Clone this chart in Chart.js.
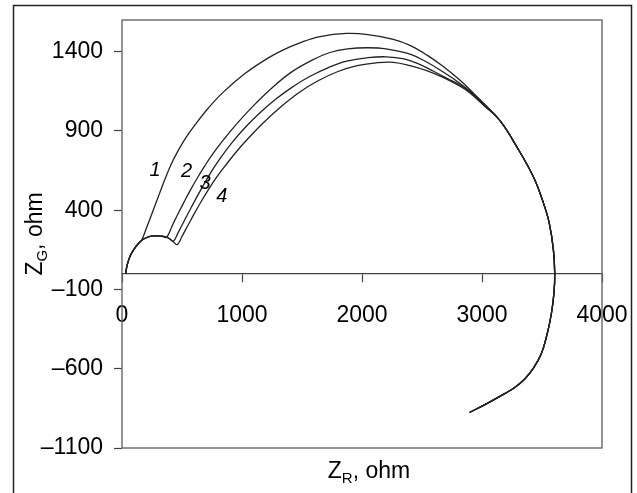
<!DOCTYPE html>
<html>
<head>
<meta charset="utf-8">
<script src="https://cdn.jsdelivr.net/npm/chart.js@4.4.1/dist/chart.umd.min.js"></script>
<style>
html, body { margin: 0; padding: 0; background: #fff; }
</style>
</head>
<body>
<canvas id="myChart" width="637" height="493"></canvas>
<script>
// tick labels
var xTicks = [0, 1000, 2000, 3000, 4000];
var yTicks = [-1100, -600, -100, 400, 900, 1400];
var curveNames = ['1', '2', '3', '4'];

// common start of the small arc (Z_R, Z_G in ohm)
var arcR = [30, 45, 70, 105, 140, 164];
var arcG = [0, 60, 115, 160, 192, 211];
// rest of the small arc for curves 2-4
var arc2R = [220, 275, 330, 372];
var arc2G = [232, 238, 236, 230];

// big arc, curve 1
var r1 = [210, 260, 310, 360, 410, 460, 530, 610, 720, 844, 1030, 1206, 1340, 1483, 1650, 1870, 2050, 2261, 2400, 2539, 2680, 2817, 2900, 3020];
var g1 = [300, 400, 500, 600, 690, 765, 855, 940, 1045, 1145, 1265, 1355, 1410, 1456, 1495, 1515, 1508, 1478, 1440, 1380, 1305, 1220, 1160, 1070];
// curve 2
var r2 = [420, 470, 520, 570, 625, 690, 761, 850, 956, 1090, 1233, 1400, 1580, 1733, 1880, 2050, 2200, 2400, 2539, 2680, 2817, 2900, 3020];
var g2 = [305, 382, 456, 527, 600, 680, 760, 848, 945, 1055, 1160, 1265, 1345, 1395, 1418, 1425, 1418, 1385, 1335, 1270, 1200, 1150, 1066];
// curve 3
var r3 = [400, 428, 470, 520, 570, 620, 680, 750, 830, 920, 1030, 1150, 1280, 1410, 1560, 1720, 1872, 2050, 2200, 2350, 2480, 2600, 2720, 2817, 2900, 3020];
var g3 = [218, 204, 262, 335, 408, 478, 560, 650, 740, 830, 925, 1015, 1100, 1172, 1242, 1300, 1340, 1362, 1368, 1355, 1320, 1275, 1228, 1190, 1145, 1062];
// curve 4
var r4 = [400, 430, 460, 500, 550, 600, 660, 720, 790, 870, 960, 1060, 1178, 1320, 1470, 1630, 1800, 1960, 2120, 2261, 2400, 2539, 2680, 2817, 2900, 3020];
var g4 = [218, 200, 183, 235, 305, 375, 455, 530, 610, 690, 775, 860, 952, 1050, 1140, 1215, 1275, 1312, 1330, 1333, 1312, 1280, 1236, 1182, 1140, 1058];

// shared tail after the curves merge
var tailR = [3150, 3290, 3428, 3510, 3560, 3595, 3606, 3600, 3578, 3540, 3494, 3430, 3356, 3270, 3189, 3040, 2897];
var tailG = [965, 800, 611, 450, 320, 150, 0, -120, -253, -390, -506, -595, -665, -720, -757, -820, -876];

// where the curve numbers sit (data units)
var nameR = [275, 539, 692, 831];
var nameG = [654, 643, 570, 485];

function pts(rs, gs) {
    var out = [];
    for (var k = 0; k < rs.length; k++) {
        for (var i = 0; i < rs[k].length; i++) out.push({x: rs[k][i], y: gs[k][i]});
    }
    return out;
}

var series = [
    pts([arcR, r1, tailR], [arcG, g1, tailG]),
    pts([arcR, arc2R, r2, tailR], [arcG, arc2G, g2, tailG]),
    pts([arcR, arc2R, r3, tailR], [arcG, arc2G, g3, tailG]),
    pts([arcR, arc2R, r4, tailR], [arcG, arc2G, g4, tailG])
];

var FONT = 'Liberation Sans, Arial, sans-serif';

function fmt(v) {
    return v < 0 ? '\u2013' + Math.abs(v) : String(v);
}

// draws "Z" + subscript + ", ohm" centred on (0,0)
function subTitle(ctx, sub) {
    var big = '23px ' + FONT, small = '15px ' + FONT;
    ctx.font = big;
    var wZ = ctx.measureText('Z').width;
    var wRest = ctx.measureText(', ohm').width;
    ctx.font = small;
    var wSub = ctx.measureText(sub).width;
    var x = -(wZ + wSub + wRest) / 2;
    ctx.textBaseline = 'alphabetic';
    ctx.textAlign = 'left';
    ctx.fillStyle = '#000';
    ctx.font = big;
    ctx.fillText('Z', x, 8);
    ctx.font = small;
    ctx.fillText(sub, x + wZ, 13);
    ctx.font = big;
    ctx.fillText(', ohm', x + wZ + wSub, 8);
}

var extras = {
    id: 'extras',
    beforeDraw: function(chart) {
        var ctx = chart.ctx;
        ctx.save();
        ctx.strokeStyle = '#222';
        ctx.lineWidth = 1.5;
        ctx.beginPath();
        ctx.moveTo(13.5, 493);
        ctx.lineTo(13.5, 5.5);
        ctx.lineTo(631.5, 5.5);
        ctx.lineTo(631.5, 493);
        ctx.stroke();
        ctx.restore();
    },
    afterDatasetsDraw: function(chart) {
        var ctx = chart.ctx, a = chart.chartArea;
        var xs = chart.scales.x, ys = chart.scales.y;
        ctx.save();
        ctx.strokeStyle = '#666';
        ctx.lineWidth = 1.4;
        ctx.strokeRect(a.left, a.top, a.right - a.left, a.bottom - a.top);

        ctx.fillStyle = '#000';
        ctx.font = 'italic 20px ' + FONT;
        ctx.textAlign = 'center';
        ctx.textBaseline = 'middle';
        for (var i = 0; i < curveNames.length; i++) {
            ctx.fillText(curveNames[i], xs.getPixelForValue(nameR[i]), ys.getPixelForValue(nameG[i]));
        }
        ctx.restore();

        ctx.save();
        ctx.translate(369, 470);
        subTitle(ctx, 'R');
        ctx.restore();

        ctx.save();
        ctx.translate(34, 234);
        ctx.rotate(-Math.PI / 2);
        subTitle(ctx, 'G');
        ctx.restore();
    }
};

var ctx = document.getElementById('myChart').getContext('2d');
var myChart = new Chart(ctx, {
    type: 'scatter',
    data: {
        datasets: series.map(function(d, i) {
            return {
                label: curveNames[i],
                data: d,
                showLine: true,
                borderColor: '#222',
                borderWidth: 1.3,
                pointRadius: 0,
                tension: 0.4,
                fill: false
            };
        })
    },
    options: {
        responsive: false,
        animation: false,
        layout: { padding: { left: 0, top: 20, right: 35, bottom: 45 } },
        plugins: {
            legend: { display: false },
            tooltip: { enabled: false }
        },
        scales: {
            x: {
                type: 'linear',
                position: { y: 0 },
                min: 0,
                max: 4000,
                afterBuildTicks: function(s) { s.ticks = xTicks.map(function(v) { return {value: v}; }); },
                afterFit: function(s) { s.height = 0; s.paddingLeft = 0; s.paddingRight = 0; },
                grid: { drawOnChartArea: false, tickLength: 8, color: '#444', tickWidth: 1.2 },
                border: { display: true, color: '#444', width: 1.3 },
                ticks: {
                    font: { family: FONT, size: 23 },
                    color: '#000',
                    padding: 20,
                    maxRotation: 0,
                    autoSkip: false,
                    callback: fmt
                }
            },
            y: {
                type: 'linear',
                position: 'left',
                min: -1100,
                max: 1600,
                afterBuildTicks: function(s) { s.ticks = yTicks.map(function(v) { return {value: v}; }); },
                afterFit: function(s) { s.width = 122; s.paddingTop = 0; s.paddingBottom = 0; },
                grid: { drawOnChartArea: false, tickLength: 8, color: '#444', tickWidth: 1.2 },
                border: { display: false },
                ticks: {
                    font: { family: FONT, size: 23 },
                    color: '#000',
                    padding: 11,
                    autoSkip: false,
                    callback: fmt
                }
            }
        }
    },
    plugins: [extras]
});
</script>
</body>
</html>
